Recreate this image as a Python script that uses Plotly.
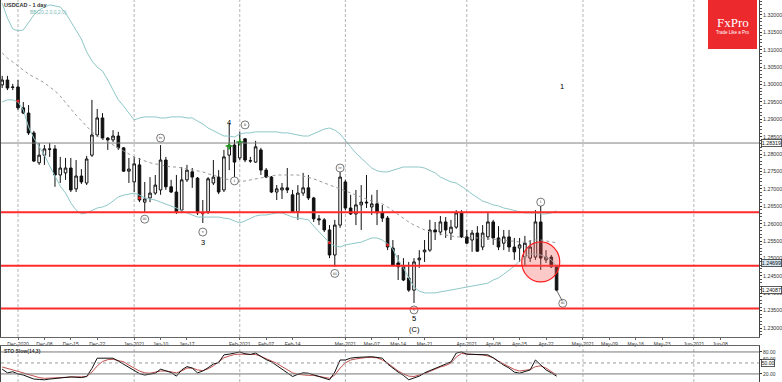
import pandas as pd
import plotly.graph_objects as go

# ---------------- data ----------------
holidays = ["2020-12-25", "2021-01-01"]
dates = [d.strftime("%Y-%m-%d") for d in pd.bdate_range("2020-11-26", "2021-04-26")
         if d.strftime("%Y-%m-%d") not in holidays]

open_ = [1.2999, 1.3013, 1.2993,
         1.2993, 1.2933, 1.2918, 1.2861, 1.2775, 1.2797, 1.2815, 1.2815, 1.2740, 1.2746,
         1.2760, 1.2700, 1.2737, 1.2717, 1.2797, 1.2855, 1.2904, 1.2846, 1.2841, 1.2852,
         1.2818, 1.2751, 1.2720, 1.2769, 1.2662, 1.2674, 1.2688, 1.2697, 1.2783, 1.2706,
         1.2691, 1.2639, 1.2726, 1.2749, 1.2731, 1.2631, 1.2634, 1.2717, 1.2734, 1.2697,
         1.2797, 1.2826, 1.2789, 1.2844, 1.2780, 1.2777, 1.2812, 1.2754, 1.2734, 1.2691,
         1.2697, 1.2703, 1.2683, 1.2634, 1.2688, 1.2703, 1.2674, 1.2614, 1.2611, 1.2582,
         1.2510, 1.2596, 1.2720, 1.2645, 1.2628, 1.2654, 1.2662, 1.2648, 1.2657, 1.2631,
         1.2616, 1.2530, 1.2487, 1.2476, 1.2444, 1.2409, 1.2496, 1.2519, 1.2524, 1.2582,
         1.2576, 1.2605, 1.2573, 1.2590, 1.2631, 1.2562, 1.2553, 1.2573, 1.2533, 1.2562,
         1.2605, 1.2559, 1.2544, 1.2562, 1.2533, 1.2530, 1.2504, 1.2501, 1.2504, 1.2605,
         1.2496, 1.2504, 1.2476]
high_ = [1.3025, 1.3025, 1.3002,
         1.3013, 1.2950, 1.2941, 1.2867, 1.2832, 1.2826, 1.2832, 1.2826, 1.2792, 1.2789,
         1.2789, 1.2783, 1.2757, 1.2795, 1.2956, 1.2930, 1.2918, 1.2849, 1.2869, 1.2864,
         1.2820, 1.2789, 1.2792, 1.2789, 1.2720, 1.2734, 1.2740, 1.2826, 1.2792, 1.2726,
         1.2740, 1.2763, 1.2769, 1.2760, 1.2734, 1.2668, 1.2734, 1.2783, 1.2754, 1.2812,
         1.2889, 1.2841, 1.2864, 1.2846, 1.2792, 1.2838, 1.2818, 1.2760, 1.2737, 1.2711,
         1.2717, 1.2760, 1.2697, 1.2711, 1.2746, 1.2740, 1.2677, 1.2625, 1.2616, 1.2596,
         1.2611, 1.2749, 1.2726, 1.2683, 1.2697, 1.2711, 1.2740, 1.2683, 1.2697, 1.2654,
         1.2622, 1.2553, 1.2510, 1.2501, 1.2490, 1.2501, 1.2524, 1.2553, 1.2611, 1.2605,
         1.2622, 1.2619, 1.2611, 1.2639, 1.2639, 1.2582, 1.2582, 1.2593, 1.2596, 1.2634,
         1.2611, 1.2593, 1.2582, 1.2582, 1.2559, 1.2559, 1.2565, 1.2553, 1.2639, 1.2654,
         1.2524, 1.2510, 1.2481]
low_ = [1.2990, 1.2984, 1.2984,
        1.2927, 1.2915, 1.2855, 1.2777, 1.2769, 1.2769, 1.2792, 1.2706, 1.2717, 1.2726,
        1.2691, 1.2691, 1.2714, 1.2711, 1.2792, 1.2849, 1.2841, 1.2812, 1.2835, 1.2812,
        1.2749, 1.2717, 1.2691, 1.2662, 1.2634, 1.2662, 1.2683, 1.2683, 1.2697, 1.2688,
        1.2628, 1.2634, 1.2720, 1.2703, 1.2625, 1.2602, 1.2628, 1.2711, 1.2685, 1.2691,
        1.2754, 1.2731, 1.2783, 1.2777, 1.2775, 1.2775, 1.2740, 1.2731, 1.2688, 1.2668,
        1.2671, 1.2688, 1.2631, 1.2611, 1.2680, 1.2668, 1.2605, 1.2596, 1.2576, 1.2501,
        1.2476, 1.2588, 1.2639, 1.2625, 1.2596, 1.2582, 1.2645, 1.2625, 1.2596, 1.2605,
        1.2524, 1.2478, 1.2438, 1.2435, 1.2404, 1.2372, 1.2473, 1.2490, 1.2519, 1.2553,
        1.2567, 1.2559, 1.2553, 1.2585, 1.2559, 1.2542, 1.2519, 1.2519, 1.2524, 1.2553,
        1.2539, 1.2524, 1.2524, 1.2519, 1.2496, 1.2490, 1.2481, 1.2490, 1.2496, 1.2467,
        1.2487, 1.2473, 1.2406]
close_ = [1.3013, 1.2990, 1.2992,
          1.2933, 1.2918, 1.2861, 1.2780, 1.2797, 1.2815, 1.2814, 1.2740, 1.2760, 1.2760,
          1.2697, 1.2737, 1.2720, 1.2786, 1.2855, 1.2904, 1.2846, 1.2841, 1.2852, 1.2818,
          1.2751, 1.2757, 1.2772, 1.2668, 1.2671, 1.2688, 1.2711, 1.2783, 1.2706, 1.2691,
          1.2634, 1.2726, 1.2754, 1.2734, 1.2631, 1.2630, 1.2729, 1.2734, 1.2691, 1.2792,
          1.2826, 1.2777, 1.2835, 1.2783, 1.2781, 1.2821, 1.2754, 1.2734, 1.2691, 1.2700,
          1.2703, 1.2697, 1.2634, 1.2688, 1.2703, 1.2674, 1.2614, 1.2611, 1.2582, 1.2510,
          1.2596, 1.2734, 1.2645, 1.2628, 1.2654, 1.2662, 1.2660, 1.2657, 1.2631, 1.2616,
          1.2533, 1.2481, 1.2476, 1.2438, 1.2409, 1.2490, 1.2501, 1.2524, 1.2582, 1.2576,
          1.2605, 1.2582, 1.2590, 1.2631, 1.2562, 1.2544, 1.2573, 1.2521, 1.2573, 1.2605,
          1.2559, 1.2533, 1.2562, 1.2533, 1.2519, 1.2539, 1.2544, 1.2533, 1.2605, 1.2501,
          1.2504, 1.2476, 1.2409]

bb_upper = [1.3234, 1.3191, 1.3160,
            1.3154, 1.3157, 1.3180, 1.3200, 1.3214, 1.3223, 1.3229, 1.3226, 1.3223, 1.3206,
            1.3180, 1.3157, 1.3131, 1.3094, 1.3068, 1.3050, 1.3039, 1.3013, 1.2984, 1.2956,
            1.2938, 1.2918, 1.2898, 1.2904, 1.2907, 1.2907, 1.2907, 1.2904, 1.2904, 1.2907,
            1.2907, 1.2907, 1.2904, 1.2904, 1.2895, 1.2887, 1.2875, 1.2867, 1.2858, 1.2852,
            1.2852, 1.2849, 1.2858, 1.2861, 1.2861, 1.2864, 1.2864, 1.2864, 1.2864, 1.2864,
            1.2861, 1.2861, 1.2858, 1.2855, 1.2852, 1.2852, 1.2858, 1.2864, 1.2872, 1.2875,
            1.2869, 1.2858, 1.2841, 1.2821, 1.2803, 1.2789, 1.2775, 1.2760, 1.2752, 1.2749,
            1.2749, 1.2754, 1.2760, 1.2763, 1.2763, 1.2763, 1.2763, 1.2760, 1.2754, 1.2746,
            1.2734, 1.2726, 1.2720, 1.2717, 1.2708, 1.2697, 1.2685, 1.2674, 1.2665, 1.2660,
            1.2654, 1.2651, 1.2645, 1.2642, 1.2637, 1.2634, 1.2631, 1.2631, 1.2631, 1.2628,
            1.2628, 1.2631, 1.2637]
bb_middle = [1.3091, 1.3076, 1.3065,
             1.3053, 1.3042, 1.3030, 1.3022, 1.3013, 1.3005, 1.2993, 1.2982, 1.2967, 1.2950,
             1.2930, 1.2912, 1.2895, 1.2878, 1.2864, 1.2852, 1.2844, 1.2835, 1.2826, 1.2818,
             1.2809, 1.2800, 1.2792, 1.2786, 1.2780, 1.2775, 1.2772, 1.2769, 1.2766, 1.2763,
             1.2763, 1.2760, 1.2757, 1.2754, 1.2752, 1.2749, 1.2743, 1.2740, 1.2734, 1.2729,
             1.2726, 1.2723, 1.2720, 1.2723, 1.2726, 1.2729, 1.2731, 1.2734, 1.2737, 1.2740,
             1.2740, 1.2740, 1.2740, 1.2740, 1.2737, 1.2734, 1.2729, 1.2723, 1.2717, 1.2711,
             1.2706, 1.2700, 1.2694, 1.2688, 1.2682, 1.2677, 1.2671, 1.2665, 1.2662, 1.2657,
             1.2648, 1.2637, 1.2625, 1.2614, 1.2605, 1.2596, 1.2588, 1.2582, 1.2576, 1.2573,
             1.2570, 1.2567, 1.2565, 1.2562, 1.2562, 1.2559, 1.2559, 1.2559, 1.2559, 1.2556,
             1.2556, 1.2553, 1.2553, 1.2550, 1.2550, 1.2547, 1.2547, 1.2550, 1.2553, 1.2553,
             1.2550, 1.2547, 1.2545]
bb_lower = [1.2950, 1.2956, 1.2956,
            1.2950, 1.2927, 1.2878, 1.2846, 1.2821, 1.2797, 1.2766, 1.2737, 1.2708, 1.2688,
            1.2660, 1.2639, 1.2628, 1.2631, 1.2639, 1.2645, 1.2648, 1.2654, 1.2665, 1.2677,
            1.2682, 1.2685, 1.2688, 1.2682, 1.2674, 1.2671, 1.2668, 1.2662, 1.2657, 1.2651,
            1.2645, 1.2637, 1.2631, 1.2625, 1.2619, 1.2619, 1.2619, 1.2619, 1.2619, 1.2616,
            1.2614, 1.2608, 1.2602, 1.2608, 1.2616, 1.2622, 1.2625, 1.2625, 1.2628, 1.2631,
            1.2631, 1.2625, 1.2619, 1.2616, 1.2614, 1.2611, 1.2593, 1.2576, 1.2559, 1.2545,
            1.2536, 1.2533, 1.2539, 1.2542, 1.2545, 1.2547, 1.2553, 1.2559, 1.2559, 1.2553,
            1.2542, 1.2527, 1.2496, 1.2473, 1.2444, 1.2418, 1.2406, 1.2401, 1.2401, 1.2401,
            1.2404, 1.2406, 1.2409, 1.2412, 1.2415, 1.2418, 1.2421, 1.2424, 1.2427, 1.2429,
            1.2438, 1.2444, 1.2455, 1.2467, 1.2478, 1.2493, 1.2504, 1.2513, 1.2513, 1.2510,
            1.2504, 1.2496, 1.2478]

sto_k = [33, 23, 26,
         20, 17, 12, 6, 5, 4, 6, 8, 10, 11,
         12, 11, 10, 13, 35, 63, 63, 63, 63, 55,
         47, 38, 29, 21, 17, 19, 22, 33, 29, 24,
         14, 31, 40, 36, 23, 28, 37, 47, 51, 72,
         74, 77, 80, 75, 73, 77, 67, 59, 53, 43,
         35, 24, 13, 19, 23, 22, 17, 13, 8, 4,
         25, 58, 58, 63, 65, 66, 67, 67, 65, 63,
         47, 35, 25, 16, 4, 9, 14, 23, 29, 36,
         42, 47, 53, 77, 80, 74, 74, 74, 73, 72,
         64, 53, 44, 36, 25, 22, 27, 31, 58, 44,
         31, 23, 14]
sto_d = [39, 36, 31,
         27, 23, 17, 13, 10, 8, 9, 10, 11, 12,
         12, 12, 12, 13, 25, 42, 54, 59, 60, 57,
         53, 44, 35, 28, 23, 22, 25, 28, 28, 25,
         23, 28, 36, 36, 31, 29, 34, 42, 53, 64,
         69, 73, 74, 74, 74, 73, 68, 62, 57, 49,
         40, 32, 23, 19, 17, 16, 16, 13, 10, 8,
         17, 36, 50, 58, 61, 64, 65, 65, 64, 58,
         50, 39, 28, 20, 14, 13, 16, 21, 27, 34,
         39, 43, 50, 66, 76, 74, 74, 73, 72, 69,
         64, 55, 47, 39, 32, 28, 29, 32, 40, 42,
         36, 27, 17]

tick_dates = ["2020-12-01", "2020-12-08", "2020-12-15", "2020-12-22", "2021-01-04", "2021-01-11",
              "2021-01-18", "2021-02-01", "2021-02-08", "2021-02-15", "2021-03-01", "2021-03-08",
              "2021-03-15", "2021-03-22", "2021-04-01", "2021-04-08", "2021-04-15", "2021-04-22",
              "2021-05-03", "2021-05-10", "2021-05-17", "2021-05-24", "2021-06-01", "2021-06-08"]
tick_labels = ["Dec-2020", "Dec-08", "Dec-15", "Dec-22", "Jan-2021", "Jan-10", "Jan-17",
               "Feb-2021", "Feb-07", "Feb-14", "Mar-2021", "Mar-07", "Mar-14", "Mar-21",
               "Apr-2021", "Apr-08", "Apr-15", "Apr-22", "May-2021", "May-09", "May-16",
               "May-23", "Jun-2021", "Jun-08"]
month_starts = ["2020-12-01", "2021-01-04", "2021-02-01", "2021-03-01", "2021-04-01",
                "2021-05-03", "2021-06-01"]

support_levels = [1.2633, 1.2479, 1.2356]
last_high_line = 1.28319

circle_x = ["2021-01-11", "2021-01-06", "2021-01-21", "2021-02-02", "2021-01-29",
            "2021-02-26", "2021-02-25", "2021-03-18", "2021-04-21", "2021-04-27 04:00"]
circle_y = [1.2846, 1.2613, 1.2576, 1.2884, 1.2723, 1.2760, 1.2457, 1.2352, 1.2662, 1.2371]
circle_txt = ["iv", "iii", "v", "ii", "i", "iv", "iii", "v", "i", "iii"]

wave_x = ["2021-01-21", "2021-01-28", "2021-03-18", "2021-03-18", "2021-04-27"]
wave_y = [1.2547, 1.2892, 1.2326, 1.2297, 1.2993]
wave_txt = ["3", "4", "5", "(C)", "1"]

red_dot_x = ["2020-12-01", "2021-01-05", "2021-01-21", "2021-02-24", "2021-03-11"]
red_dot_y = [1.2953, 1.2674, 1.2631, 1.2545, 1.2539]
green_dot_x = ["2021-01-28", "2021-02-01"]
green_dot_y = [1.2823, 1.2835]

# ---------------- figure ----------------
FONT = "Liberation Sans"
fig = go.Figure()

band_col = "#8fc7c7"
fig.add_trace(go.Scatter(x=dates, y=bb_upper, mode="lines", line=dict(color=band_col, width=1),
                         xaxis="x", yaxis="y", hoverinfo="skip"))
fig.add_trace(go.Scatter(x=dates, y=bb_lower, mode="lines", line=dict(color=band_col, width=1),
                         xaxis="x", yaxis="y", hoverinfo="skip"))
fig.add_trace(go.Scatter(x=dates, y=bb_middle, mode="lines",
                         line=dict(color="#9a9a9a", width=1, dash="dot"),
                         xaxis="x", yaxis="y", hoverinfo="skip"))

fig.add_trace(go.Candlestick(
    x=dates, open=open_, high=high_, low=low_, close=close_,
    increasing=dict(line=dict(color="#111111", width=1), fillcolor="white"),
    decreasing=dict(line=dict(color="#111111", width=1), fillcolor="#111111"),
    whiskerwidth=0, xaxis="x", yaxis="y"))

fig.add_trace(go.Scatter(x=red_dot_x, y=red_dot_y, mode="markers",
                         marker=dict(color="#e02020", size=3), xaxis="x", yaxis="y"))
fig.add_trace(go.Scatter(x=green_dot_x, y=green_dot_y, mode="markers",
                         marker=dict(color="#1a9a1a", size=5, symbol="cross-thin",
                                     line=dict(color="#1a9a1a", width=1.5)),
                         xaxis="x", yaxis="y"))

fig.add_trace(go.Scatter(x=circle_x, y=circle_y, mode="markers+text", text=circle_txt,
                         textposition="middle center",
                         textfont=dict(size=4.5, color="#333", family="Liberation Serif"),
                         marker=dict(size=8, color="white", line=dict(color="#555", width=0.8)),
                         xaxis="x", yaxis="y"))

# STO panel
fig.add_trace(go.Scatter(x=dates, y=sto_d, mode="lines", line=dict(color="#c0504d", width=1),
                         xaxis="x2", yaxis="y2"))
fig.add_trace(go.Scatter(x=dates, y=sto_k, mode="lines", line=dict(color="#111111", width=1),
                         xaxis="x2", yaxis="y2"))

shapes = []
for d in month_starts:
    for yr in ("y domain", "y2 domain"):
        shapes.append(dict(type="line", xref="x" if yr == "y domain" else "x2", x0=d, x1=d,
                           yref=yr, y0=0, y1=1, layer="below",
                           line=dict(color="#b4b4b4", width=1, dash="3px,2px")))
shapes.append(dict(type="line", xref="x domain", x0=0, x1=1, yref="y",
                   y0=last_high_line, y1=last_high_line, line=dict(color="#808080", width=1)))
for lv in support_levels:
    shapes.append(dict(type="line", xref="x domain", x0=0, x1=1, yref="y", y0=lv, y1=lv,
                       line=dict(color="#ff2a2a", width=2)))
shapes.append(dict(type="circle", xref="x", yref="y", x0="2021-04-15 09:36", x1="2021-04-26 14:24",
                   y0=1.24325, y1=1.25475, fillcolor="rgba(245,90,90,0.33)",
                   line=dict(color="#ff2020", width=1.2)))
shapes.append(dict(type="line", xref="x", yref="y", x0=dates[-1], y0=close_[-1],
                   x1="2021-04-27 02:00", y1=1.2378, line=dict(color="#444", width=0.8)))
for lv, st in ((80, "solid"), (50, "dot"), (20, "solid")):
    shapes.append(dict(type="line", xref="x2 domain", x0=0, x1=1, yref="y2", y0=lv, y1=lv,
                       line=dict(color="#777" if st == "solid" else "#999", width=1, dash=st)))
# FxPro logo box
shapes.append(dict(type="rect", xref="paper", yref="paper", x0=0.9327, x1=0.9974, y0=0.8717, y1=1.0,
                   fillcolor="#ec2a2e", line=dict(width=0), layer="above"))

annotations = []
for x, y, t in zip(wave_x, wave_y, wave_txt):
    annotations.append(dict(x=x, y=y, xref="x", yref="y", text=t, showarrow=False,
                            font=dict(size=7.5, color="black", family=FONT)))
annotations += [
    dict(xref="paper", yref="paper", x=0.0013, y=0.987, xanchor="left", yanchor="middle",
         text="<b>USDCAD - 1 day</b>", showarrow=False, font=dict(size=5.5, color="#333", family=FONT)),
    dict(xref="paper", yref="paper", x=0.0356, y=0.9686, xanchor="left", yanchor="middle",
         text="BB(20,2.0,0,2.0)", showarrow=False, font=dict(size=5, color="#7ab8b8", family=FONT)),
    dict(xref="paper", yref="paper", x=0.0013, y=0.0812, xanchor="left", yanchor="middle",
         text="<b>STO Slow(14,3)</b>", showarrow=False, font=dict(size=5, color="#333", family=FONT)),
    dict(xref="paper", yref="paper", x=0.9657, y=0.9424, xanchor="center", yanchor="middle",
         text="FxPro", showarrow=False,
         font=dict(size=13, color="white", family="Liberation Serif")),
    dict(xref="paper", yref="paper", x=0.9657, y=0.9162, xanchor="center", yanchor="middle",
         text="Trade Like a Pro", showarrow=False,
         font=dict(size=4.5, color="white", family=FONT)),
]
for val, txt, bg in ((1.28319, "1.28319", "white"), (1.2487, "1.24699", "#d6e6f2"),
                     (1.24087, "1.24087", "white")):
    annotations.append(dict(xref="paper", yref="y", x=1, y=val, xanchor="left", xshift=2,
                            text=txt, showarrow=False, bgcolor=bg, bordercolor="#333",
                            borderwidth=0.8, borderpad=0, font=dict(size=5.3, color="#111", family=FONT)))
annotations.append(dict(xref="paper", yref="y2", x=1, y=50, xanchor="left", xshift=2, text="50.00",
                        showarrow=False, bgcolor="white", bordercolor="#333", borderwidth=0.8,
                        borderpad=0, font=dict(size=5, color="#111", family=FONT)))

rb = [dict(bounds=["sat", "mon"]), dict(values=holidays)]
xr = ["2020-11-25 18:40", "2021-06-17 08:10"]

fig.update_layout(
    width=782, height=382, margin=dict(l=1, r=23, t=0, b=0, autoexpand=False),
    paper_bgcolor="white", plot_bgcolor="white", showlegend=False, hovermode=False,
    font=dict(family=FONT),
    xaxis=dict(type="date", range=xr, rangebreaks=rb, anchor="y", domain=[0, 1],
               rangeslider=dict(visible=False), tickmode="array", tickvals=tick_dates,
               ticktext=tick_labels, tickfont=dict(size=5, color="#333"), ticks="outside",
               ticklen=2, tickcolor="#666", showline=True, linecolor="#666", linewidth=1,
               mirror=True, showgrid=False, zeroline=False, automargin=False),
    yaxis=dict(domain=[0.1178, 1], range=[1.22742, 1.32431], side="right", anchor="x",
               tick0=1.23, dtick=0.005, tickformat=".5f", tickfont=dict(size=5.3, color="#333"),
               ticks="outside", ticklen=2, tickcolor="#333", showline=True, linecolor="#444",
               linewidth=1, mirror=True, showgrid=False, zeroline=False, automargin=False,
               minor=dict(ticks="outside", dtick=0.001, ticklen=1.5, tickcolor="#555")),
    xaxis2=dict(type="date", range=xr, rangebreaks=rb, anchor="y2", domain=[0, 1],
                showticklabels=False, ticks="", showline=True, linecolor="#666", linewidth=1,
                mirror=True, showgrid=False, zeroline=False, automargin=False),
    yaxis2=dict(domain=[0, 0.0942], range=[-2, 96.2], side="right", anchor="x2",
                tickmode="array", tickvals=[20, 60, 80], ticktext=["20.00", "60.00", "80.00"],
                tickfont=dict(size=5, color="#333"), ticks="outside", ticklen=2, tickcolor="#333",
                showline=True, linecolor="#444", linewidth=1, mirror=True, showgrid=False,
                zeroline=False, automargin=False),
    shapes=shapes, annotations=annotations,
)

fig.write_html("out.html", config={"displayModeBar": False},
               post_script="document.body.style.margin='0px';document.body.style.padding='0px';")
